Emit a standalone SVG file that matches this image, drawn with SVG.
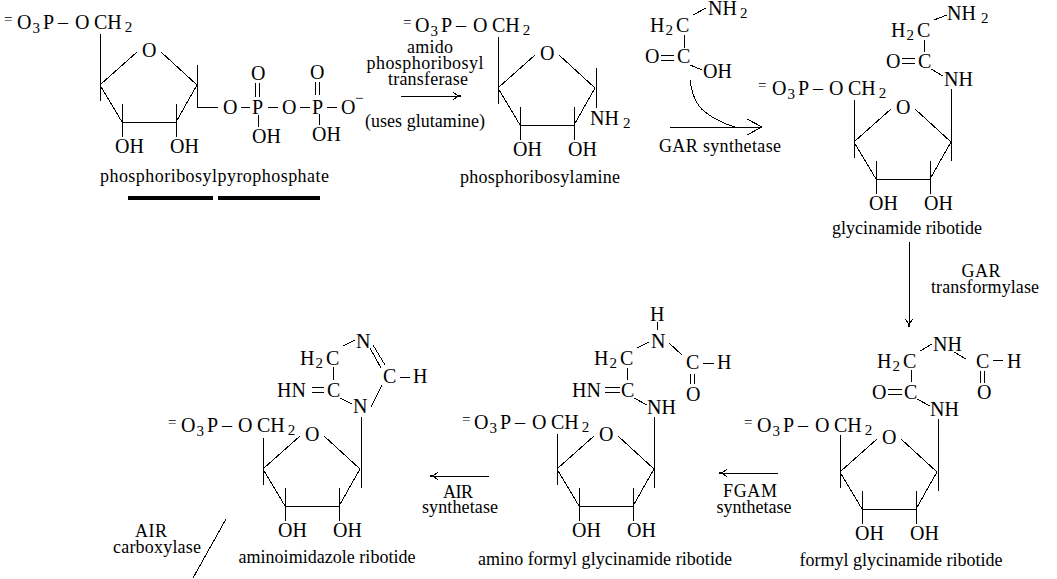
<svg xmlns="http://www.w3.org/2000/svg" width="1057" height="579" viewBox="0 0 1057 579">
<style>
text{font-family:"Liberation Serif","Times New Roman",serif;fill:#000}
.a{font-size:20px}
.l{font-size:18px;text-anchor:middle}
.s{font-size:15px}
.sb{font-size:15px}
line,path{stroke:#000;stroke-width:1;fill:none;shape-rendering:crispEdges}
</style>
<defs>
<g id="ring"><path d="M101 84L137 52M161 52L197 85L176 122H122L100 85V101M122 104V137M176 104V137"/></g>
<marker id="open" markerWidth="16" markerHeight="18" refX="15" refY="8" orient="auto" markerUnits="userSpaceOnUse"><path d="M0 0L15 8L0 16"/></marker>
<marker id="small" markerWidth="12" markerHeight="12" refX="10" refY="6" orient="auto" markerUnits="userSpaceOnUse"><path d="M2 2L7 6L2 10"/><rect x="6" y="5" width="4" height="2"/></marker>
</defs>
<rect width="1057" height="579" fill="#fff"/>
<g id="connectors">
<line x1="401" y1="96" x2="461" y2="96" marker-end="url(#small)"/>
<line x1="670" y1="127" x2="762" y2="127" marker-end="url(#open)"/>
<path d="M690 80C692 95 697 106 705 112C714 119 725 124 735 127"/>
<line x1="909" y1="242" x2="909" y2="327" marker-end="url(#small)"/>
<line x1="778" y1="473" x2="719" y2="473" marker-end="url(#small)"/>
<line x1="489" y1="476" x2="430" y2="476" marker-end="url(#small)"/>
<line x1="226" y1="519" x2="193" y2="578"/>
</g>
<g id="prpp">
<use href="#ring"/><path d="M100 34V85M197 65V107H218M241 107H250M268 107H278M300 107H310M327 107H337M255 83V97M259 83V97M258 115V127M315 82V95M319 82V95M319 114V125"/>
<text class="s" x="4" y="24">=</text><text class="a" x="17" y="29">O<tspan class="sb" dx="1" dy="4">3</tspan><tspan dx="3" dy="-4">P</tspan></text><text class="a" x="58" y="29">–</text><text class="a" x="75" y="29">O</text><text class="a" x="94" y="29">CH<tspan class="sb" dx="3" dy="3">2</tspan></text>
<text class="a" x="142" y="57">O</text><text class="a" x="115" y="153">OH</text><text class="a" x="170" y="153">OH</text>
<text class="a" x="223" y="114">O</text><text class="a" x="252" y="114">P</text><text class="a" x="282" y="114">O</text><text class="a" x="312" y="114">P</text><text class="a" x="341" y="114">O</text><text class="s" x="355" y="103">−</text>
<text class="a" x="251" y="80">O</text><text class="a" x="310" y="79">O</text><text class="a" x="252" y="143">OH</text><text class="a" x="312" y="141">OH</text>
<text class="l" x="214.500" y="182" textLength="229">phosphoribosylpyrophosphate</text>
<rect x="128" y="196" width="85" height="4"/><rect x="218" y="196" width="102" height="4"/>
</g>
<g id="amidotransferase">
<text class="l" x="430" y="53" textLength="46">amido</text><text class="l" x="425" y="69" textLength="117">phosphoribosyl</text><text class="l" x="428" y="85" textLength="80">transferase</text><text class="l" x="425" y="127" textLength="120">(uses glutamine)</text>
</g>
<g id="pra" transform="translate(398 3)">
<use href="#ring"/><path d="M100 34V85M198 65V105"/>
<text class="s" x="5" y="24">=</text><text class="a" x="17" y="29">O<tspan class="sb" dx="1" dy="4">3</tspan><tspan dx="3" dy="-4">P</tspan></text><text class="a" x="58" y="29">–</text><text class="a" x="75" y="29">O</text><text class="a" x="94" y="29">CH<tspan class="sb" dx="3" dy="3">2</tspan></text>
<text class="a" x="142" y="57">O</text><text class="a" x="115" y="153">OH</text><text class="a" x="170" y="153">OH</text>
<text class="a" x="192" y="122">NH<tspan class="sb" dx="4" dy="3">2</tspan></text>
<text class="l" x="142" y="180" textLength="160">phosphoribosylamine</text>
</g>
<g id="glycine">
<text class="a" x="650" y="32">H<tspan class="sb" dx="1" dy="3">2</tspan><tspan dx="3" dy="-3">C</tspan></text><text class="a" x="708" y="15">NH<tspan class="sb" dx="3" dy="3">2</tspan></text>
<text class="a" x="645" y="63">O</text><text class="a" x="677" y="63">C</text><text class="a" x="703" y="78">OH</text>
<path d="M684 35V48M661 55H674M661 60H674M690 65L702 70M693 15L706 8"/>
<text class="l" x="720" y="152" textLength="122">GAR synthetase</text>
</g>
<g id="gar" transform="translate(754 57)">
<use href="#ring"/><path d="M100 43V101M197 32V104"/>
<text class="s" x="4" y="33">=</text><text class="a" x="18" y="38">O<tspan class="sb" dx="1" dy="4">3</tspan><tspan dx="3" dy="-4">P</tspan></text><text class="a" x="59" y="38">–</text><text class="a" x="75" y="38">O</text><text class="a" x="94" y="38">CH<tspan class="sb" dx="3" dy="3">2</tspan></text>
<text class="a" x="142" y="57">O</text><text class="a" x="115" y="153">OH</text><text class="a" x="170" y="153">OH</text>
<text class="a" x="137" y="-20">H<tspan class="sb" dx="1" dy="3">2</tspan><tspan dx="3" dy="-3">C</tspan></text><text class="a" x="193" y="-37">NH<tspan class="sb" dx="5" dy="3">2</tspan></text>
<text class="a" x="132" y="11">O</text><text class="a" x="164" y="11">C</text><text class="a" x="190" y="29">NH</text>
<path d="M170 -17V-5M148 1H161M148 6H161M177 12L189 19M180 -37L193 -42"/>
<text class="l" x="153" y="177" textLength="150">glycinamide ribotide</text>
</g>
<g id="gar-transformylase">
<text class="l" x="981" y="277" textLength="39">GAR</text><text class="l" x="985" y="293" textLength="108">transformylase</text>
</g>
<g id="fgar" transform="translate(740 387)">
<use href="#ring"/><path d="M100 48V101M198 32V104"/>
<text class="s" x="4" y="40">=</text><text class="a" x="17" y="45">O<tspan class="sb" dx="1" dy="4">3</tspan><tspan dx="3" dy="-4">P</tspan></text><text class="a" x="58" y="45">–</text><text class="a" x="75" y="45">O</text><text class="a" x="94" y="45">CH<tspan class="sb" dx="3" dy="3">2</tspan></text>
<text class="a" x="142" y="57">O</text><text class="a" x="115" y="153">OH</text><text class="a" x="170" y="153">OH</text>
<text class="a" x="137" y="-19">H<tspan class="sb" dx="1" dy="3">2</tspan><tspan dx="3" dy="-3">C</tspan></text><text class="a" x="193" y="-36">NH</text>
<text class="a" x="132" y="12">O</text><text class="a" x="164" y="12">C</text><text class="a" x="190" y="29">NH</text><text class="a" x="236" y="-19">C</text><text class="a" x="267" y="-19">H</text><text class="a" x="237" y="12">O</text>
<path d="M171 -17V-5M148 2H162M148 7H162M177 12L190 19M180 -36L192 -43M214 -35L226 -28M253 -27H263M240 -16V-4M244 -16V-4"/>
<text class="l" x="161" y="179" textLength="203">formyl glycinamide ribotide</text>
</g>
<g id="fgam-synthetase">
<text class="l" x="750" y="497" textLength="54">FGAM</text><text class="l" x="754" y="513" textLength="75">synthetase</text>
</g>
<g id="fgam" transform="translate(457 384)">
<use href="#ring"/><path d="M100 50V101M197 33V104"/>
<text class="s" x="5" y="40">=</text><text class="a" x="17" y="45">O<tspan class="sb" dx="1" dy="4">3</tspan><tspan dx="3" dy="-4">P</tspan></text><text class="a" x="58" y="45">–</text><text class="a" x="75" y="45">O</text><text class="a" x="94" y="45">CH<tspan class="sb" dx="3" dy="3">2</tspan></text>
<text class="a" x="142" y="57">O</text><text class="a" x="115" y="153">OH</text><text class="a" x="170" y="153">OH</text>
<text class="a" x="137" y="-19">H<tspan class="sb" dx="1" dy="3">2</tspan><tspan dx="3" dy="-3">C</tspan></text><text class="a" x="115" y="13">HN</text><text class="a" x="164" y="13">C</text><text class="a" x="190" y="30">NH</text>
<text class="a" x="194" y="-36">N</text><text class="a" x="193" y="-63">H</text><text class="a" x="229" y="-15">C</text><text class="a" x="260" y="-15">H</text><text class="a" x="229" y="17">O</text>
<path d="M170 -16V-4M148 3H163M148 8H163M177 14L190 21M180 -36L192 -42M200 -62V-54M212 -41L225 -29M246 -21H257M233 -10V0M237 -10V0"/>
<text class="l" x="148" y="181" textLength="254">amino formyl glycinamide ribotide</text>
</g>
<g id="air-synthetase">
<text class="l" x="458" y="498" textLength="30">AIR</text><text class="l" x="460" y="513" textLength="76">synthetase</text>
</g>
<g id="air" transform="translate(163 384)">
<use href="#ring"/><path d="M100 54V101M198 33V104"/>
<text class="s" x="5" y="43">=</text><text class="a" x="18" y="48">O<tspan class="sb" dx="1" dy="4">3</tspan><tspan dx="3" dy="-4">P</tspan></text><text class="a" x="59" y="48">–</text><text class="a" x="75" y="48">O</text><text class="a" x="94" y="48">CH<tspan class="sb" dx="3" dy="3">2</tspan></text>
<text class="a" x="142" y="57">O</text><text class="a" x="115" y="153">OH</text><text class="a" x="170" y="153">OH</text>
<text class="a" x="137" y="-19">H<tspan class="sb" dx="1" dy="3">2</tspan><tspan dx="3" dy="-3">C</tspan></text><text class="a" x="114" y="13">HN</text><text class="a" x="164" y="13">C</text><text class="a" x="190" y="29">N</text>
<text class="a" x="193" y="-36">N</text><text class="a" x="220" y="-1">C</text><text class="a" x="250" y="-1">H</text>
<path d="M170 -17V-4M149 3H161M149 8H161M177 14L189 20M180 -38L192 -44M210 -39L222 -19M207 -36L218 -16M219 1L208 23M237 -7H247"/>
<text class="l" x="164" y="179" textLength="177">aminoimidazole ribotide</text>
</g>
<g id="air-carboxylase">
<text class="l" x="151" y="537" textLength="32">AIR</text><text class="l" x="157" y="553" textLength="88">carboxylase</text>
</g>
</svg>
